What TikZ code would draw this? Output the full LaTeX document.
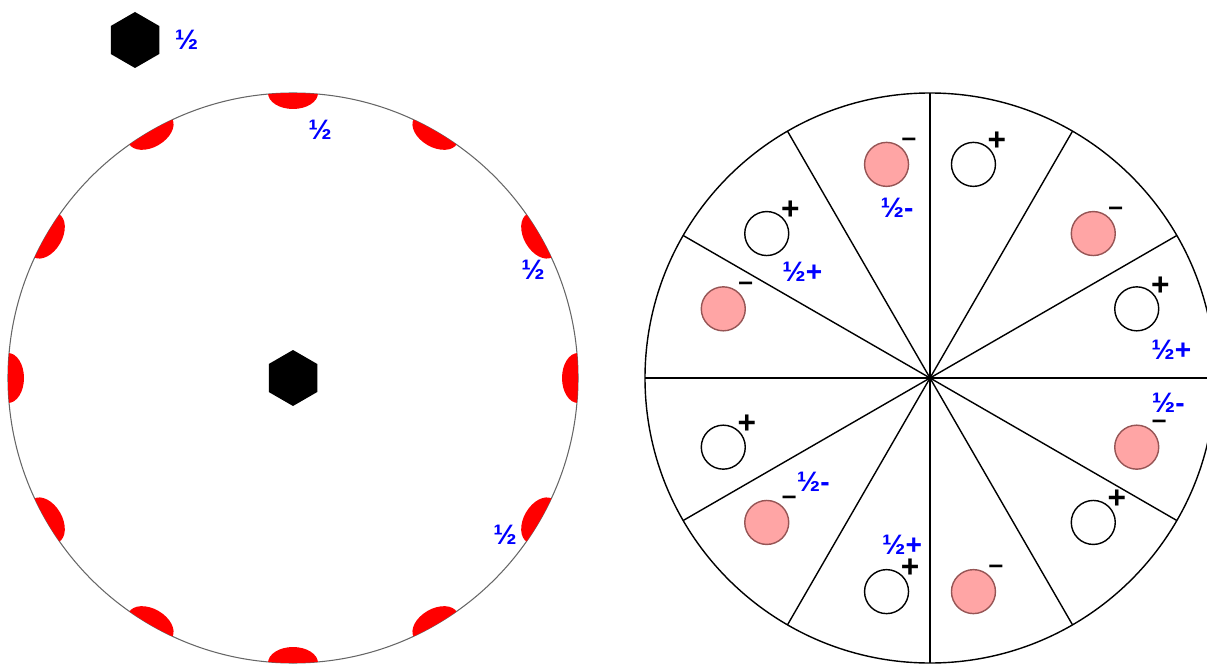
\documentclass[tikz,border=0pt]{standalone}
\usepackage{fontspec}
\setmainfont{Liberation Sans}
\usetikzlibrary{shapes.geometric, positioning, calc}
\definecolor{capred}{RGB}{255,0,0}
\definecolor{pinkfill}{RGB}{255,165,165}
\definecolor{pinkline}{RGB}{150,85,85}

\begin{document}
\begin{tikzpicture}[
    half/.style={text=blue, font=\bfseries\fontsize{16}{18}\selectfont, inner sep=0pt},
    plussign/.style={font=\bfseries\fontsize{18}{20}\selectfont, inner sep=0pt},
    minussign/.style={font=\bfseries\fontsize{15}{16}\selectfont, inner sep=0pt},
    hexa/.style={regular polygon, regular polygon sides=6, shape border rotate=30, fill=black, minimum size=1.12cm, inner sep=0pt},
    ion/.style={circle, line width=0.8pt, minimum size=0.88cm, inner sep=0pt},
    negion/.style={ion, fill=pinkfill, draw=pinkline},
    posion/.style={ion, fill=white, draw=black}
]
\useasboundingbox (0,0) rectangle (24.14,13.3);
\coordinate (L) at (5.86,5.74);
\coordinate (R) at (18.6,5.74);

\draw[black!60, line width=0.6pt] (L) circle (5.7);
\begin{scope}
    \clip (L) circle (5.7);
    \foreach \a in {0,30,...,330}
        \fill[capred, shift={(L)}, rotate=\a] (5.7,0) ellipse (0.32 and 0.5);
\end{scope}
\node[hexa] (hexTop) at (2.70,12.5) {};
\node[hexa] (hexMid) at (L) {};
\node[half, right=0.3cm of hexTop] (hTop) {½};
\node[half] (hCapTop) at (6.40,10.70) {½};
\node[half] (hCapUp) at (10.66,7.90) {½};
\node[half] (hCapLow) at (10.10,2.60) {½};

\draw[line width=0.8pt] (R) circle (5.7);
\foreach \a in {0,30,...,150}
    \draw[line width=0.8pt] ($(R)+(\a:5.7)$) -- ($(R)+({\a+180}:5.7)$);
\foreach \s [count=\i] in {90,30,-30,-90,-150,150} {
    \node[negion] (n\i) at ($(R)+({\s+11.5}:4.36)$) {};
    \node[minussign] (ns\i) at ($(n\i)+(0.45,0.45)$) {–};
    \node[posion] (p\i) at ($(R)+({\s-11.5}:4.36)$) {};
    \node[plussign] (ps\i) at ($(p\i)+(0.47,0.46)$) {+};
}
\node[half] (h1) at ($(n1)+(0.21,-0.87)$) {½-};
\node[half] (h2) at ($(p2)+(0.69,-0.82)$) {½+};
\node[half] (h3) at ($(n3)+(0.63,0.88)$) {½-};
\node[half] (h4) at ($(p4)+(0.31,0.93)$) {½+};
\node[half] (h5) at ($(n5)+(0.93,0.82)$) {½-};
\node[half] (h6) at ($(p6)+(0.71,-0.77)$) {½+};
\end{tikzpicture}
\end{document}
